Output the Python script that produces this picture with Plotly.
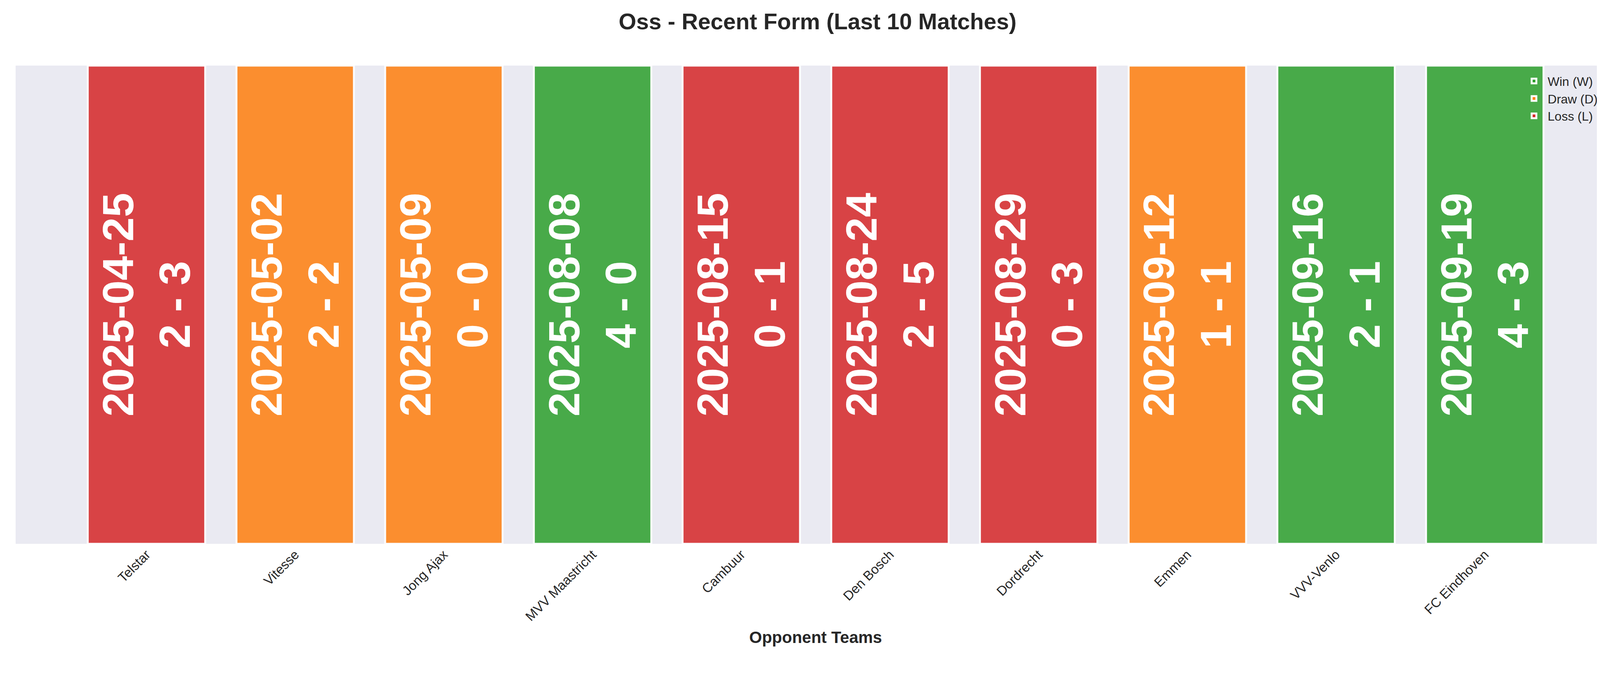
import plotly.graph_objects as go

teams = ["Telstar", "Vitesse", "Jong Ajax", "MVV Maastricht", "Cambuur",
         "Den Bosch", "Dordrecht", "Emmen", "VVV-Venlo", "FC Eindhoven"]
dates = ["2025-04-25", "2025-05-02", "2025-05-09", "2025-08-08", "2025-08-15",
         "2025-08-24", "2025-08-29", "2025-09-12", "2025-09-16", "2025-09-19"]
scores = ["2 - 3", "2 - 2", "0 - 0", "4 - 0", "0 - 1",
          "2 - 5", "0 - 3", "1 - 1", "2 - 1", "4 - 3"]
results = ["L", "D", "D", "W", "L", "L", "L", "D", "W", "W"]
heights = [1] * len(teams)

colors = {"W": "#2ca02c", "D": "#ff7f0e", "L": "#d62728"}
names = {"W": "Win (W)", "D": "Draw (D)", "L": "Loss (L)"}

fig = go.Figure()
for r in ["W", "D", "L"]:
    idx = [i for i, v in enumerate(results) if v == r]
    fig.add_trace(go.Bar(
        x=idx, y=[heights[i] for i in idx],
        text=[f"{dates[i]}<br>{scores[i]}" for i in idx],
        textposition="inside", insidetextanchor="middle", textangle=-90,
        constraintext="none",
        textfont=dict(family="Liberation Sans, Arial", size=112, color="white", weight="bold"),
        marker=dict(color=colors[r], opacity=0.85, line=dict(color="white", width=5)),
        width=0.79, name=names[r],
    ))

fig.update_layout(
    width=4170, height=1770, barmode="overlay",
    paper_bgcolor="white", plot_bgcolor="#EAEAF2",
    margin=dict(l=32, r=42, t=160, b=385),
    title=dict(text="<b>Oss - Recent Form (Last 10 Matches)</b>", x=0.5, xanchor="center",
               y=0.985, yanchor="top",
               font=dict(family="Liberation Sans, Arial", size=58, color="#262626")),
    font=dict(family="Liberation Sans, Arial", color="#262626"),
    legend=dict(x=0.99, y=0.99, xanchor="right", yanchor="top", xref="paper", yref="paper",
                bgcolor="rgba(0,0,0,0)", font=dict(size=32), traceorder="normal",
                itemwidth=60),
)
fig.update_xaxes(tickmode="array", tickvals=list(range(len(teams))), ticktext=teams,
                 tickangle=-45, tickfont=dict(size=34), range=[-0.88, 9.88],
                 showgrid=False, zeroline=False, showline=False, ticklen=0,
                 title=dict(text="<b>Opponent Teams</b>", font=dict(size=42), standoff=20))
fig.update_yaxes(range=[0, 1], visible=False, showgrid=False)

fig.write_html("out.html")
